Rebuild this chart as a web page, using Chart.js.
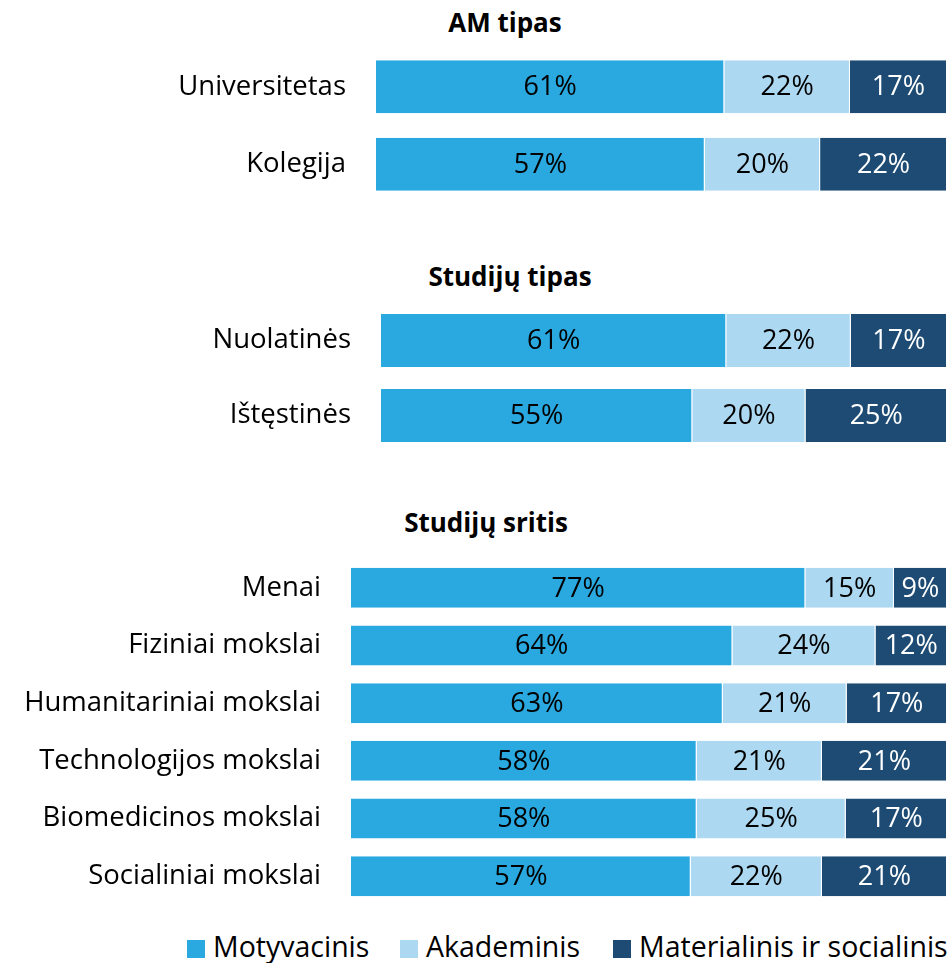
<!DOCTYPE html>
<html>
<head>
<meta charset="utf-8">
<script src="https://cdn.jsdelivr.net/npm/chart.js@4"></script>
<style>
  body{margin:0;background:#fff;width:947px;height:963px;position:relative;overflow:hidden;
       font-family:"Open Sans", sans-serif;}
  .ttl{position:absolute;font-weight:bold;font-size:26px;color:#000;white-space:nowrap;transform:translate(-50%,-50%);}
  canvas{position:absolute;left:0;}
  .lg{position:absolute;top:927px;font-size:28.5px;white-space:nowrap;line-height:38px;}
  .lg span{display:inline-block;width:18px;height:18px;vertical-align:-1px;margin-right:8px;}
</style>
</head>
<body>
<div class="ttl" style="left:505px;top:22px">AM tipas</div>
<div class="ttl" style="left:510px;top:276px">Studijų tipas</div>
<div class="ttl" style="left:486px;top:522px">Studijų sritis</div>

<canvas id="c1" width="947" height="155" style="top:48px"></canvas>
<canvas id="c2" width="947" height="150" style="top:303px"></canvas>
<canvas id="c3" width="947" height="346" style="top:559px"></canvas>

<div id="legend"></div>

<script>
// series names + colours
const seriesNames = ['Motyvacinis', 'Akademinis', 'Materialinis ir socialinis'];
const seriesColors = ['#2aa9e0', '#add8f1', '#1d4b73'];
const labelColors = ['#000', '#000', '#fff'];

// AM tipas
const groups1 = ['Universitetas', 'Kolegija'];
const motyv1 = [61, 57];
const akad1 = [22, 20];
const mat1 = [17, 22];

// Studiju tipas
const groups2 = ['Nuolatinės', 'Ištęstinės'];
const motyv2 = [61, 55];
const akad2 = [22, 20];
const mat2 = [17, 25];

// Studiju sritis
const groups3 = ['Menai', 'Fiziniai mokslai', 'Humanitariniai mokslai', 'Technologijos mokslai', 'Biomedicinos mokslai', 'Socialiniai mokslai'];
const motyv3 = [77, 64, 63, 58, 58, 57];
const akad3 = [15, 24, 21, 21, 25, 22];
const mat3 = [9, 12, 17, 21, 17, 21];

const FONT = '"Open Sans", sans-serif';

// draws the % text in the middle of each segment (raw rounded value)
const valueLabels = {
  id: 'valueLabels',
  afterDatasetsDraw(chart){
    const ctx = chart.ctx;
    const area = chart.chartArea;
    ctx.save();
    ctx.font = '27px ' + FONT;
    ctx.textAlign = 'center';
    ctx.textBaseline = 'middle';
    chart.data.datasets.forEach((ds, i)=>{
      chart.getDatasetMeta(i).data.forEach((bar, j)=>{
        const l = Math.max(Math.min(bar.base, bar.x), area.left);
        const r = Math.min(Math.max(bar.base, bar.x), area.right);
        ctx.fillStyle = labelColors[i];
        ctx.fillText(ds.raw[j] + '%', (l + r) / 2, bar.y + 1);
      });
    });
    ctx.restore();
  }
};

function makeChart(id, labels, series, leftEdge, barPct){
  // 100% stacked: each row is scaled to its own total
  const totals = labels.map((_, j)=>series.reduce((s, d)=>s + d[j], 0));
  new Chart(document.getElementById(id), {
    type: 'bar',
    data: {
      labels,
      datasets: series.map((d, i)=>({
        label: seriesNames[i],
        raw: d,
        data: d.map((v, j)=>v / totals[j] * 100),
        backgroundColor: seriesColors[i],
        borderColor: '#fff',
        borderWidth: {left: 0, right: 1, top: 0, bottom: 0},
        borderSkipped: false,
        barPercentage: barPct,
        categoryPercentage: 1
      }))
    },
    options: {
      indexAxis: 'y',
      responsive: false,
      animation: false,
      layout: {padding: 0},
      plugins: {legend: {display: false}, tooltip: {enabled: false}, title: {display: false}},
      scales: {
        x: {stacked: true, min: 0, max: 100, display: false},
        y: {
          stacked: true,
          grid: {display: false, drawTicks: false},
          border: {display: false},
          ticks: {color: '#000', padding: 30, font: {family: FONT, size: 27.5}},
          afterFit(scale){
            scale.width = leftEdge;
            // tick padding would otherwise eat vertical space
            scale.paddingTop = 0;
            scale.paddingBottom = 0;
          }
        }
      }
    },
    plugins: [valueLabels]
  });
}

makeChart('c1', groups1, [motyv1, akad1, mat1], 376, 0.684);
makeChart('c2', groups2, [motyv2, akad2, mat2], 381, 0.707);
makeChart('c3', groups3, [motyv3, akad3, mat3], 351, 0.694);

// legend
const legendX = [187, 400, 613];
document.getElementById('legend').innerHTML = seriesNames.map((n, i)=>
  '<div class="lg" style="left:' + legendX[i] + 'px"><span style="background:' + seriesColors[i] + '"></span>' + n + '</div>'
).join('');
</script>
</body>
</html>
